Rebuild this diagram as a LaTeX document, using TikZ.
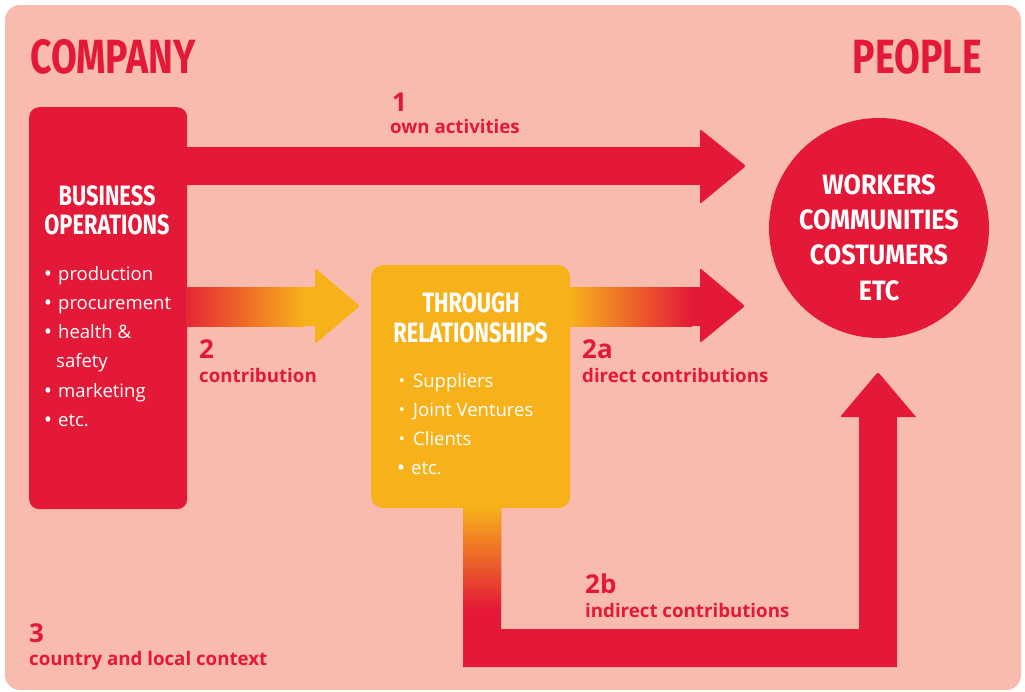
\documentclass[tikz,border=0pt]{standalone}
\usepackage{fontspec}
\setmainfont{Open Sans}
\newfontfamily\tfont[FakeStretch=0.78]{Fira Sans}
\newfontfamily\cfont[FakeStretch=0.9]{Fira Sans}
\usetikzlibrary{calc}
\definecolor{cred}{RGB}{227,25,55}
\definecolor{cyel}{RGB}{247,178,27}
\definecolor{cbg}{RGB}{248,187,174}
\begin{document}
\begin{tikzpicture}[x=1pt,y=-1pt,
  title/.style={font=\tfont\bfseries\fontsize{28}{28}\selectfont, text=white, inner sep=0pt, anchor=base},
  ctitle/.style={font=\cfont\bfseries\fontsize{28}{28}\selectfont, text=white, inner sep=0pt, anchor=base},
  big/.style={font=\tfont\bfseries\fontsize{48}{48}\selectfont, text=cred, inner sep=0pt},
  num/.style={font=\bfseries\fontsize{26}{26}\selectfont, text=cred, inner sep=0pt, anchor=base west},
  lab/.style={font=\bfseries\fontsize{18.7}{18.7}\selectfont, text=cred, inner sep=0pt, anchor=base west},
  item/.style={font=\fontsize{18.5}{18.5}\selectfont, text=white, inner sep=0pt, anchor=base west},
  bul/.style={font=\fontsize{22}{22}\selectfont, text=white, inner sep=0pt, anchor=base},
  sbul/.style={font=\fontsize{16}{16}\selectfont, text=white, inner sep=0pt, anchor=base},
  headr/.style={fill=cred, rounded corners=2pt},
  heady/.style={fill=cyel, rounded corners=2pt}
]
\useasboundingbox (0,0) rectangle (1025,691);
\fill[white] (0,0) rectangle (1025,691);
\fill[cbg, rounded corners=15pt] (5,5) rectangle (1021,690);

% headings
\node[big, anchor=base west] (company) at (30,73) {COMPANY};
\node[big, anchor=base east] (people) at (982,73) {PEOPLE};

% main shapes
\node[fill=cred, rounded corners=10pt, minimum width=158pt, minimum height=402pt, inner sep=0pt, anchor=north west] (bo) at (29,107) {};
\node[fill=cyel, rounded corners=12pt, minimum width=199pt, minimum height=243pt, inner sep=0pt, anchor=north west] (tr) at (371,265) {};
\node[circle, fill=cred, minimum size=220pt, inner sep=0pt] (pp) at (879,228) {};

% arrow 1: own activities
\coordinate (t1) at (746,166);
\fill[cred] ($(bo.north east)+(-1,40)$) rectangle (701,185);
\fill[headr] (700,129) -- (t1) -- (700,204) -- cycle;

% arrow 2: contribution
\coordinate (t2) at (360,306);
\shade[left color=cred!90!cyel, right color=cyel] ($(bo.north east)+(-1,180)$) rectangle (305,326);
\fill[cyel] (304,287) rectangle (316,326);
\fill[heady] (315,268) -- (t2) -- (315,344) -- cycle;

% arrow 2a: direct contributions
\coordinate (t3) at (745,306);
\shade[left color=cyel, right color=cred] ($(tr.north east)+(-1,22)$) rectangle (692,326);
\fill[cred] (691,287) rectangle (701,326);
\fill[headr] (700,268) -- (t3) -- (700,343) -- cycle;

% arrow 2b: indirect contributions
\coordinate (t4) at (878,372);
\fill[cred] ($(tr.south west)+(92,-1)$) -- (463,667) -- (897,667) -- (897,417) -- (916,417)
   [rounded corners=2pt] -- (t4) -- (840,417) [sharp corners] -- (859,417) -- (859,629) -- (501,629) -- (501,507) -- cycle;
\shade[top color=cyel, bottom color=cred] (463,507) rectangle (501,609);

% box titles
\node[title] (bo1) at (107,205) {BUSINESS};
\node[title] (bo2) at (107,234) {OPERATIONS};
\node[title] (tr1) at (471,312) {THROUGH};
\node[title] (tr2) at (470.5,342) {RELATIONSHIPS};
\node[ctitle] (pp1) at (879,194) {WORKERS};
\node[ctitle] (pp2) at (879,229) {COMMUNITIES};
\node[ctitle] (pp3) at (879,264) {COSTUMERS};
\node[ctitle] (pp4) at (879,300) {ETC};

% business operations list
\node[bul] (bb1) at (48,281) {•};
\node[item] (bi1) at (58,280) {production};
\node[bul] (bb2) at (48,310) {•};
\node[item] (bi2) at (58,309) {procurement};
\node[bul] (bb3) at (48,339) {•};
\node[item] (bi3) at (58,338) {health \&};
\node[item] (bi4) at (56,367) {safety};
\node[bul] (bb5) at (48,398) {•};
\node[item] (bi5) at (58,397) {marketing};
\node[bul] (bb6) at (48,427) {•};
\node[item] (bi6) at (58,426) {etc.};

% relationships list
\node[sbul] (tb1) at (402,386) {•};
\node[item] (ti1) at (413,387) {Suppliers};
\node[sbul] (tb2) at (402,415) {•};
\node[item] (ti2) at (413,416) {Joint Ventures};
\node[sbul] (tb3) at (402,444) {•};
\node[item] (ti3) at (413,445) {Clients};
\node[bul] (tb4) at (401,475) {•};
\node[item] (ti4) at (411,474) {etc.};

% labels
\node[num] (n1) at (392,111) {1};
\node[lab] (l1) at (390,133) {own activities};
\node[num] (n2) at (199,358) {2};
\node[lab] (l2) at (199,382) {contribution};
\node[num] (n2a) at (582,358) {2a};
\node[lab] (l2a) at (582,382) {direct contributions};
\node[num] (n2b) at (585,593) {2b};
\node[lab] (l2b) at (585,617) {indirect contributions};
\node[num] (n3) at (29,642) {3};
\node[lab] (l3) at (29,665) {country and local context};
\end{tikzpicture}
\end{document}
